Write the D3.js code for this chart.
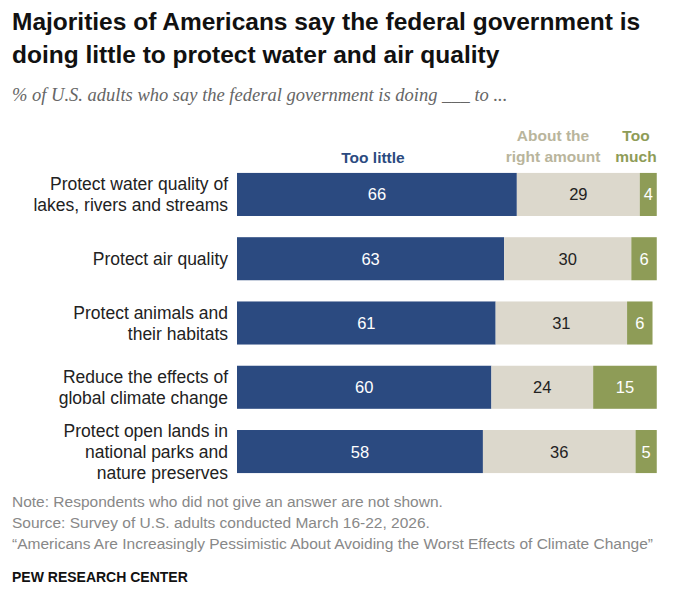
<!DOCTYPE html>
<html><head><meta charset="utf-8">
<script src="https://cdn.jsdelivr.net/npm/d3@7"></script>
<style>body{margin:0;background:#fff;font-family:"Liberation Sans",Arial,sans-serif}</style>
</head><body><svg id="c" width="680" height="598"></svg>
<script>
const categories=[["Protect water quality of","lakes, rivers and streams"],["Protect air quality"],["Protect animals and","their habitats"],["Reduce the effects of","global climate change"],["Protect open lands in","national parks and","nature preserves"]];
const tooLittle=[66,63,61,60,58];
const aboutRight=[29,30,31,24,36];
const tooMuch=[4,6,6,15,5];
const colors=["#2b4a80","#dcd8cc","#8e9c57"];
const textColors=["#fff","#222","#fff"];
const svg=d3.select("#c");
svg.append("text").attr("x",12).attr("y",30).attr("font-size",24.5).attr("font-weight","bold").attr("fill","#111").text("Majorities of Americans say the federal government is");
svg.append("text").attr("x",12).attr("y",63).attr("font-size",24.5).attr("font-weight","bold").attr("fill","#111").text("doing little to protect water and air quality");
svg.append("text").attr("x",12).attr("y",101).attr("font-size",18.5).attr("font-style","italic").attr("fill","#666").attr("font-family","Liberation Serif,serif").text("% of U.S. adults who say the federal government is doing ___ to ...");
const x=d3.scaleLinear().domain([0,100]).range([237,661]);
const y=d3.scaleBand().domain(d3.range(5)).range([162,484]).paddingInner(0.33).paddingOuter(0.17);
svg.append("text").attr("x",373).attr("y",163).attr("text-anchor","middle").attr("font-size",15.5).attr("font-weight","bold").attr("fill","#2b4a80").text("Too little");
[["About the",141],["right amount",162]].forEach(([t,yy])=>svg.append("text").attr("x",553).attr("y",yy).attr("text-anchor","middle").attr("font-size",15.5).attr("font-weight","bold").attr("fill","#b9b59c").text(t));
[["Too",141],["much",162]].forEach(([t,yy])=>svg.append("text").attr("x",636).attr("y",yy).attr("text-anchor","middle").attr("font-size",15.5).attr("font-weight","bold").attr("fill","#8e9c57").text(t));
categories.forEach((lines,i)=>{
  const vals=[tooLittle[i],aboutRight[i],tooMuch[i]];
  let s=0;
  vals.forEach((v,k)=>{
    svg.append("rect").attr("x",x(s)).attr("y",y(i)).attr("width",x(s+v)-x(s)).attr("height",y.bandwidth()).attr("fill",colors[k]);
    svg.append("text").attr("x",(x(s)+x(s+v))/2).attr("y",y(i)+y.bandwidth()/2+6).attr("text-anchor","middle").attr("font-size",16.5).attr("fill",textColors[k]).text(v);
    s+=v;
  });
  const lh=21, cy=y(i)+y.bandwidth()/2;
  lines.forEach((l,j)=>svg.append("text").attr("x",228).attr("y",cy+(j-(lines.length-1)/2)*lh+6).attr("text-anchor","end").attr("font-size",17.5).attr("fill","#222").text(l));
});
[["Note: Respondents who did not give an answer are not shown.",507],["Source: Survey of U.S. adults conducted March 16-22, 2026.",528],["“Americans Are Increasingly Pessimistic About Avoiding the Worst Effects of Climate Change”",549]].forEach(([t,yy])=>svg.append("text").attr("x",12).attr("y",yy).attr("font-size",15.5).attr("fill","#888").text(t));
svg.append("text").attr("x",12).attr("y",582).attr("font-size",14).attr("font-weight","bold").attr("fill","#111").text("PEW RESEARCH CENTER");
</script></body></html>
